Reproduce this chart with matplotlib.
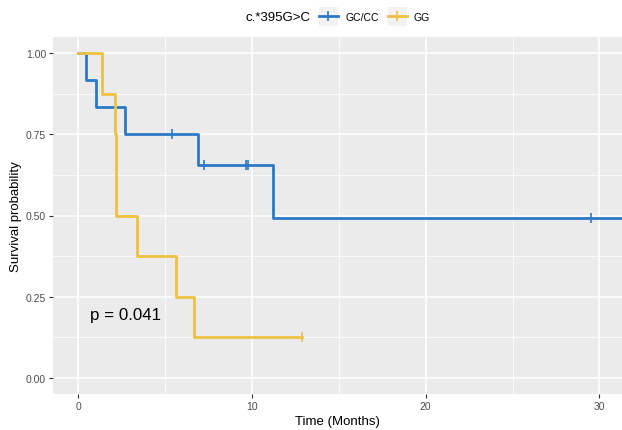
import matplotlib.pyplot as plt
from matplotlib.lines import Line2D
from matplotlib.patches import Rectangle
from matplotlib.legend_handler import HandlerLine2D

plt.rcParams["font.family"] = ["Liberation Sans", "DejaVu Sans"]

# Kaplan-Meier step curves
gc_time = [0, 0.46, 1.05, 2.72, 6.88, 11.19, 32.0]
gc_surv = [1.0, 0.917, 0.833, 0.75, 0.656, 0.492, 0.492]
gc_cens_time = [5.38, 7.24, 9.69, 9.78, 29.5]
gc_cens_surv = [0.75, 0.656, 0.656, 0.656, 0.492]

gg_time = [0, 1.38, 2.13, 2.2, 3.41, 5.63, 6.65, 12.9]
gg_surv = [1.0, 0.875, 0.75, 0.5, 0.375, 0.25, 0.125, 0.125]
gg_cens_time = [12.9]
gg_cens_surv = [0.125]

blue = "#2C79C7"
yellow = "#EFC142"
x_ticks = [0, 10, 20, 30]
y_ticks = [0, 0.25, 0.5, 0.75, 1.0]
y_labels = ["0.00", "0.25", "0.50", "0.75", "1.00"]


class KeyHandler(HandlerLine2D):
    # legend key with the grey ggplot box behind it
    def create_artists(self, legend, orig_handle, xdescent, ydescent,
                       width, height, fontsize, trans):
        artists = super().create_artists(legend, orig_handle, xdescent, ydescent,
                                         width, height, fontsize, trans)
        side = width
        bg = Rectangle((-xdescent, -ydescent + height / 2 - side / 2), width, side,
                       facecolor="#F2F2F2", edgecolor="none", transform=trans)
        return [bg] + artists


fig = plt.figure(figsize=(6.22, 4.31), dpi=100)
ax = fig.add_axes([53 / 622, 36 / 431, 569 / 622, 357 / 431])
ax.set_facecolor("#EBEBEB")
for s in ax.spines.values():
    s.set_visible(False)

ax.set_xticks(x_ticks)
ax.set_xticks([5, 15, 25], minor=True)
ax.set_yticks(y_ticks)
ax.set_yticklabels(y_labels)
ax.set_yticks([0.125, 0.375, 0.625, 0.875], minor=True)
ax.grid(which="major", color="white", lw=1.1)
ax.grid(which="minor", color="white", lw=0.55)
ax.set_axisbelow(True)
ax.tick_params(which="major", length=3, width=0.8, color="#333333",
               labelsize=7.5, labelcolor="#4D4D4D", pad=2)
ax.tick_params(which="minor", length=0)

ax.step(gc_time, gc_surv, where="post", color=blue, lw=2)
ax.step(gg_time, gg_surv, where="post", color=yellow, lw=2)
ax.plot(gc_cens_time, gc_cens_surv, ls="none", marker="|", ms=7, mew=1.2, color=blue)
ax.plot(gg_cens_time, gg_cens_surv, ls="none", marker="|", ms=7, mew=1.2, color=yellow)

ax.text(0.69, 0.195, "p = 0.041", fontsize=12.2, va="center", ha="left")

ax.set_xlim(-1.44, 31.3)
ax.set_ylim(-0.05, 1.05)
ax.set_xlabel("Time (Months)", fontsize=9.5, labelpad=3)
ax.set_ylabel("Survival probability", fontsize=9.5, labelpad=3)

fig.text(246 / 622, 1 - 18 / 431, "c.*395G>C", fontsize=9.5, va="center", ha="left")
handles = [
    Line2D([], [], color=blue, lw=2, marker="|", ms=7, mew=1.2),
    Line2D([], [], color=yellow, lw=2, marker="|", ms=7, mew=1.2),
]
fig.legend(handles, ["GC/CC", "GG"], loc="center left",
           bbox_to_anchor=(319 / 622, 1 - 18 / 431), ncol=2, frameon=False,
           fontsize=7.5, handlelength=1.8, handletextpad=0.7,
           columnspacing=0.9, borderaxespad=0, borderpad=0,
           handler_map={Line2D: KeyHandler()})

fig.savefig("out.png", dpi=100)
